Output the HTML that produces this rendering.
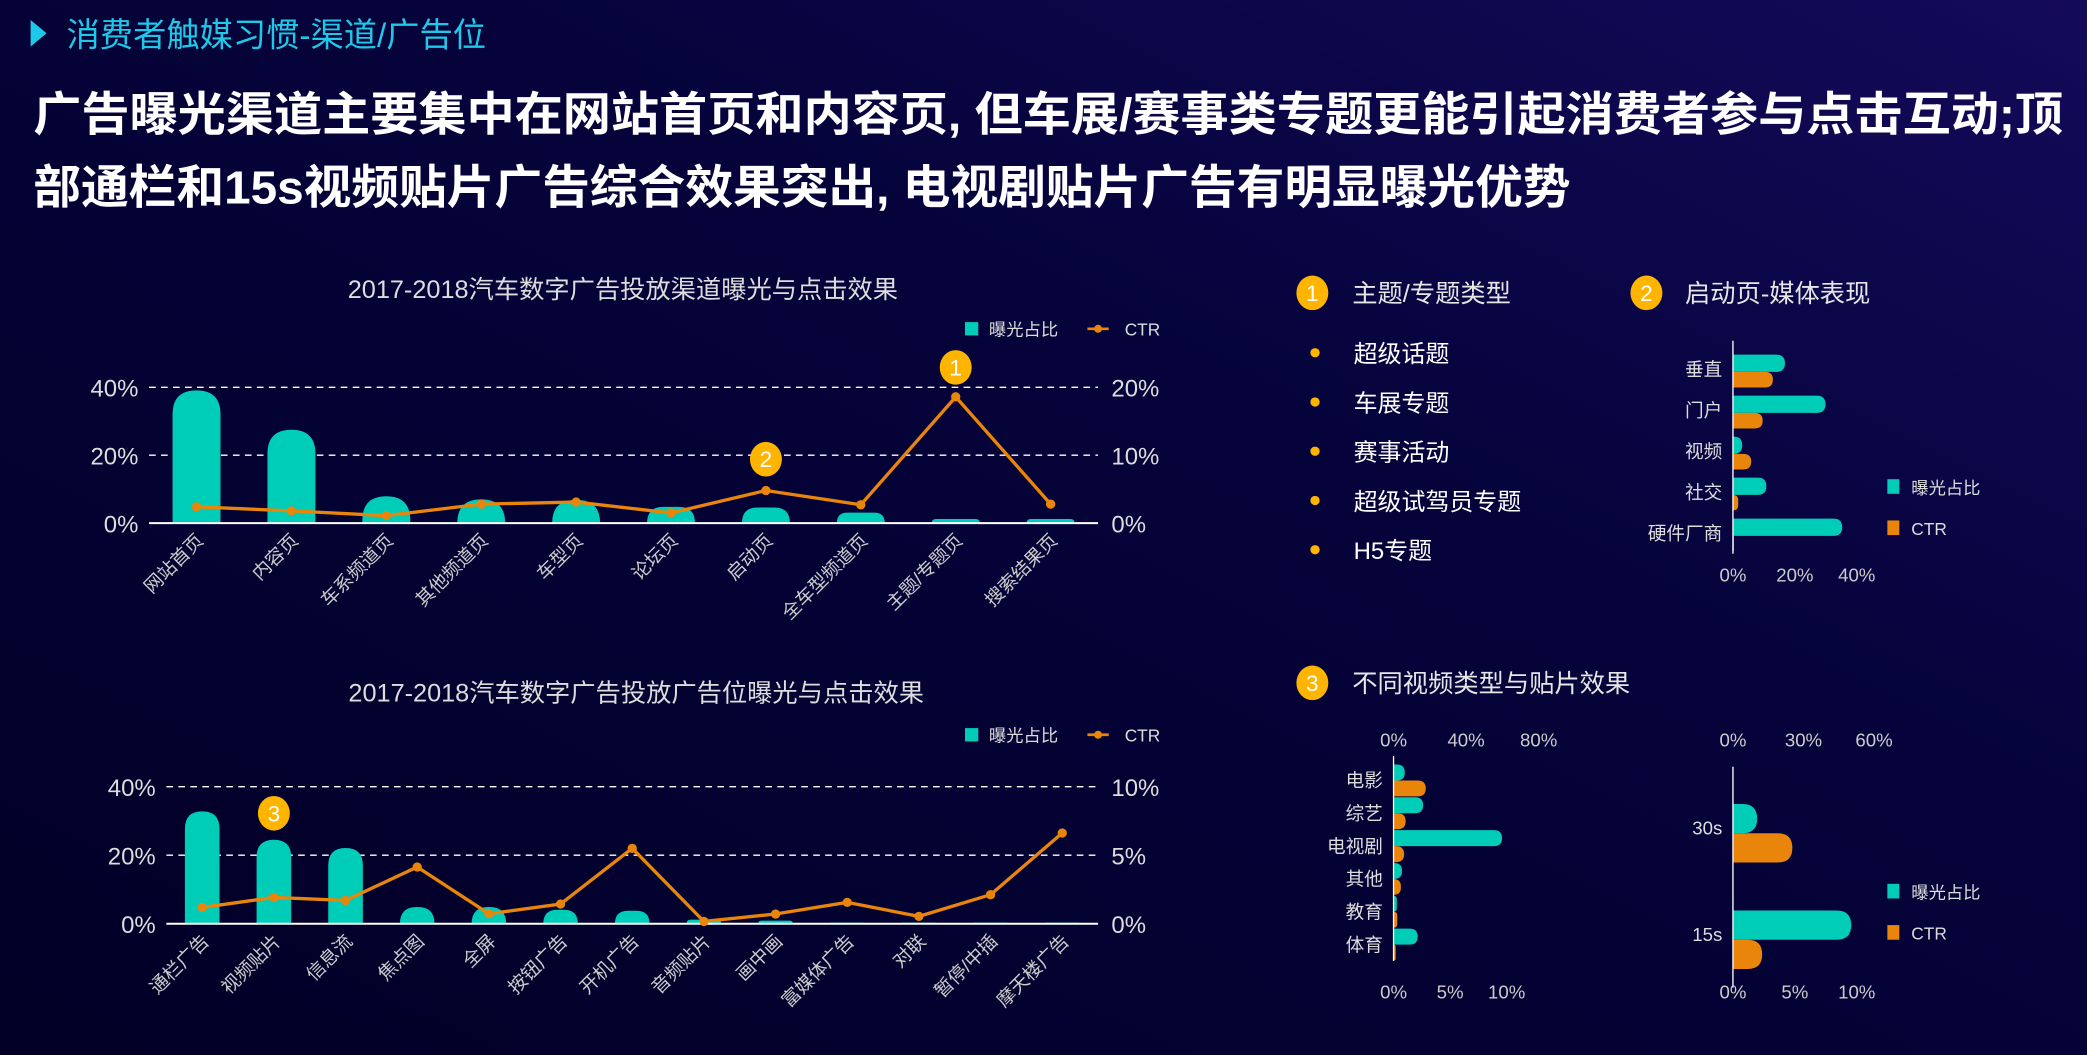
<!DOCTYPE html>
<html><head><meta charset="utf-8"><style>
html,body{margin:0;padding:0;width:2087px;height:1055px;overflow:hidden;background:#03012a}
svg{display:block}
text{font-family:"Liberation Sans","Noto Sans CJK SC",sans-serif}
</style></head><body>
<svg id="s" width="2087" height="1055" viewBox="0 0 1568 792.6" preserveAspectRatio="none">
<defs><linearGradient id="bg" x1="0" y1="1" x2="1" y2="0"><stop offset="0" stop-color="#020026"/><stop offset="0.6" stop-color="#05033a"/><stop offset="1" stop-color="#140a5a"/></linearGradient></defs>
<rect width="1568" height="793" fill="url(#bg)"/>
<polygon points="23,15 35,25 23,35" fill="#1ec8e8"/>
<text x="50" y="35" font-size="25" fill="#1ec8e8">消费者触媒习惯-渠道/广告位</text>
<text x="25" y="98" font-size="35" font-weight="bold" fill="#fff" textLength="1525" lengthAdjust="spacingAndGlyphs">广告曝光渠道主要集中在网站首页和内容页, 但车展/赛事类专题更能引起消费者参与点击互动;顶</text>
<text x="25" y="153" font-size="35" font-weight="bold" fill="#fff" textLength="1155" lengthAdjust="spacingAndGlyphs">部通栏和15s视频贴片广告综合效果突出, 电视剧贴片广告有明显曝光优势</text>
<g id="g1"></g><g id="g2"></g><g id="g3"></g>
</svg>
<script>
const cat1=["网站首页","内容页","车系频道页","其他频道页","车型页","论坛页","启动页","全车型频道页","主题/专题页","搜索结果页"];
const exp1=[39.1,27.5,7.9,7.0,6.8,4.8,4.6,3.1,1.2,1.2];
const ctr1=[2.4,1.8,1.1,2.8,3.1,1.5,4.8,2.7,18.6,2.8];
const cat2=["通栏广告","视频贴片","信息流","焦点图","全屏","按钮广告","开机广告","音频贴片","画中画","富媒体广告","对联","暂停/中插","摩天楼广告"];
const exp2=[32.8,24.5,22.1,4.9,4.9,4.1,3.8,1.2,0.9,0.3,0.3,0.3,0.3];
const ctr2=[1.19,1.92,1.70,4.14,0.73,1.44,5.5,0.17,0.71,1.56,0.54,2.12,6.62];
const cat3=["垂直","门户","视频","社交","硬件厂商"];
const exp3=[16.8,29.9,3.0,10.8,35.3];
const ctr3=[12.9,9.6,5.9,1.7,0.3];
const cat4=["电影","综艺","电视剧","其他","教育","体育"];
const exp4=[6.2,16.3,59.8,4.7,1.8,13.3];
const ctr4=[2.85,1.07,0.93,0.65,0.33,0.19];
const cat5=["30s","15s"];
const exp5=[10.3,50.3];
const ctr5=[4.8,2.36];
const topicItems=["超级话题","车展专题","赛事活动","超级试驾员专题","H5专题"];
const NS="http://www.w3.org/2000/svg";
const TEAL="#00cdb8",ORANGE="#e8850a",YEL="#ffb400";
function mk(p,t,a,txt){const e=document.createElementNS(NS,t);for(const k in a)e.setAttribute(k,a[k]);if(txt!==undefined)e.textContent=txt;p.appendChild(e);return e;}
function badge(p,x,y,n){const g=mk(p,"g",{});


mk(g,"ellipse",{cx:x,cy:y,rx:12,ry:13,fill:YEL});mk(g,"text",{x:x,y:y+6,"font-size":17,fill:"#fff","text-anchor":"middle"},String(n));}
function vbar(p,x,w,y0,h){const r=Math.min(w/2,h);const d=`M${x},${y0} L${x},${y0-h+r} Q${x},${y0-h} ${x+r},${y0-h} L${x+w-r},${y0-h} Q${x+w},${y0-h} ${x+w},${y0-h+r} L${x+w},${y0} Z`;return mk(p,"path",{d:d,fill:TEAL});}
function hbar(p,x0,y,len,h,col){const r=Math.min(h/2,len);const d=`M${x0},${y} L${x0+len-r},${y} Q${x0+len},${y} ${x0+len},${y+r} L${x0+len},${y+h-r} Q${x0+len},${y+h} ${x0+len-r},${y+h} L${x0},${y+h} Z`;return mk(p,"path",{d:d,fill:col});}
function legend(p,x,y){const t=mk(p,"rect",{x:x,y:y-9,width:10,height:10,fill:TEAL});


mk(p,"text",{x:x+18,y:y+1,"font-size":13,fill:"#ddd"},"曝光占比");
const l=mk(p,"line",{x1:x+92,y1:y-4,x2:x+108,y2:y-4,stroke:ORANGE,"stroke-width":2});


mk(p,"circle",{cx:x+100,cy:y-4,r:3,fill:ORANGE});mk(p,"text",{x:x+120,y:y+1,"font-size":13,fill:"#ddd"},"CTR");}
function combo(p,o){
 const title=mk(p,"text",{x:o.tx,y:o.ty,"font-size":19,fill:"#ddd","text-anchor":"middle"},o.title);
 
 
 legend(p,725,o.ly);
 const yL=v=>o.y0-(v/o.lmax)*(o.y0-o.ytop), yR=v=>o.y0-(v/o.rmax)*(o.y0-o.ytop);
 const bw=(o.x1-o.x0)/o.cats.length, cx=i=>o.x0+bw*(i+0.5);
 o.lt.forEach((t,i)=>{const v=o.lmax*i/(o.lt.length-1);const y=yL(v);
  const a=mk(p,"text",{x:o.x0-8,y:y+7,"font-size":18,fill:"#ddd","text-anchor":"end"},t);
  
  
  const b=mk(p,"text",{x:o.x1+10,y:y+7,"font-size":18,fill:"#ddd"},o.rt[i]);
  
  
  if(i>0)mk(p,"line",{x1:o.x0,y1:y,x2:o.x1,y2:y,stroke:"#fff","stroke-width":1,"stroke-dasharray":"5,4"});});
 o.exp.forEach((v,i)=>{const b=vbar(p,cx(i)-o.bw/2,o.bw,o.y0,o.y0-yL(v));
  
  });
 mk(p,"line",{x1:o.x0,y1:o.y0,x2:o.x1,y2:o.y0,stroke:"#fff","stroke-width":1.5});
 const pts=o.ctr.map((v,i)=>cx(i)+","+yR(v)).join(" ");
 const pl=mk(p,"polyline",{points:pts,fill:"none",stroke:ORANGE,"stroke-width":2.5});
 
 
 o.ctr.forEach((v,i)=>{const c=mk(p,"circle",{cx:cx(i),cy:yR(v),r:3.5,fill:ORANGE});
  
  });
 o.cats.forEach((c,i)=>{const x=cx(i)+6,y=o.y0+14;const t=mk(p,"text",{x:x,y:y,"font-size":14,fill:"#ccc","text-anchor":"end",transform:`rotate(-45 ${x} ${y})`},c);
  
  });
 o.badges.forEach(b=>badge(p,cx(b.i),b.y,b.n));
}
combo(document.getElementById('g1'),{title:"2017-2018汽车数字广告投放渠道曝光与点击效果",tx:468,ty:224,ly:251,cats:cat1,exp:exp1,ctr:ctr1,x0:112,x1:825,y0:393,ytop:291,lmax:40,rmax:20,lt:["0%","20%","40%"],rt:["0%","10%","20%"],bw:36,badges:[{i:8,n:1,y:276},{i:6,n:2,y:345}]});
combo(document.getElementById('g2'),{title:"2017-2018汽车数字广告投放广告位曝光与点击效果",tx:478,ty:527,ly:556,cats:cat2,exp:exp2,ctr:ctr2,x0:125,x1:825,y0:694,ytop:591,lmax:40,rmax:10,lt:["0%","20%","40%"],rt:["0%","5%","10%"],bw:26,badges:[{i:1,n:3,y:611}]});
const g3=document.getElementById('g3');
badge(g3,986,220,1);
mk(g3,"text",{x:1016,y:227,"font-size":19,fill:"#e6e6e6"},"主题/专题类型");
badge(g3,1237,220,2);
mk(g3,"text",{x:1266,y:227,"font-size":19,fill:"#e6e6e6"},"启动页-媒体表现");
topicItems.forEach((t,i)=>{const y=265+i*37;mk(g3,"circle",{cx:988,cy:y,r:3.5,fill:YEL});
 const e=mk(g3,"text",{x:1017,y:y+7,"font-size":18,fill:"#fff"},t);
 
 });
function legendV(p,x,y){const a=mk(p,"rect",{x:x,y:y-6,width:9,height:11,fill:TEAL});


mk(p,"text",{x:x+18,y:y+5,"font-size":13,fill:"#ddd"},"曝光占比");
const b=mk(p,"rect",{x:x,y:y+25,width:9,height:11,fill:ORANGE});


mk(p,"text",{x:x+18,y:y+36,"font-size":13,fill:"#ddd"},"CTR");}
function hchart(p,o){
 const n=o.cats.length, step=(o.yb-o.yt)/n;
 o.cats.forEach((c,i)=>{const yc=o.yt+step*(i+0.5);
  const t=mk(p,"text",{x:o.x0-8,y:yc+5,"font-size":14,fill:"#ddd","text-anchor":"end"},c);
  
  
  const a=hbar(p,o.x0,yc-o.bh+o.off,o.exp[i]*o.es,o.bh,TEAL);
  
  
  const b=hbar(p,o.x0,yc+o.off,o.ctr[i]*o.cs,o.bh*o.ch,ORANGE);
  
  });
 mk(p,"line",{x1:o.x0,y1:o.yt-6,x2:o.x0,y2:o.yb,stroke:"#fff","stroke-width":1});
 o.bt.forEach((t,i)=>{const a=mk(p,"text",{x:o.x0+o.btv[i]*o.cs,y:o.by,"font-size":14,fill:"#ccc","text-anchor":"middle"},t);
  
  });
 if(o.tt)o.tt.forEach((t,i)=>{const a=mk(p,"text",{x:o.x0+o.ttv[i]*o.es,y:o.ty,"font-size":14,fill:"#ccc","text-anchor":"middle"},t);
  
  });
}
hchart(g3,{cats:cat3,exp:exp3,ctr:ctr3,x0:1302,yt:262,yb:416,bh:13,ch:0.9,off:2,es:46.5/20,cs:46.5/20,bt:["0%","20%","40%"],btv:[0,20,40],by:437});
legendV(g3,1418,366);
badge(g3,986,513,3);
mk(g3,"text",{x:1016,y:520,"font-size":19,fill:"#e6e6e6"},"不同视频类型与贴片效果");
hchart(g3,{cats:cat4,exp:exp4,ctr:ctr4,x0:1047,yt:574,yb:722,bh:12,ch:1,off:0,es:54.5/40,cs:42.5/5,bt:["0%","5%","10%"],btv:[0,5,10],by:750,tt:["0%","40%","80%"],ttv:[0,40,80],ty:561});
hchart(g3,{cats:cat5,exp:exp5,ctr:ctr5,x0:1302,yt:582,yb:742,bh:22,ch:1,off:4,es:53/30,cs:46.5/5,bt:["0%","5%","10%"],btv:[0,5,10],by:750,tt:["0%","30%","60%"],ttv:[0,30,60],ty:561});
legendV(g3,1418,670);
</script>
</body></html>
